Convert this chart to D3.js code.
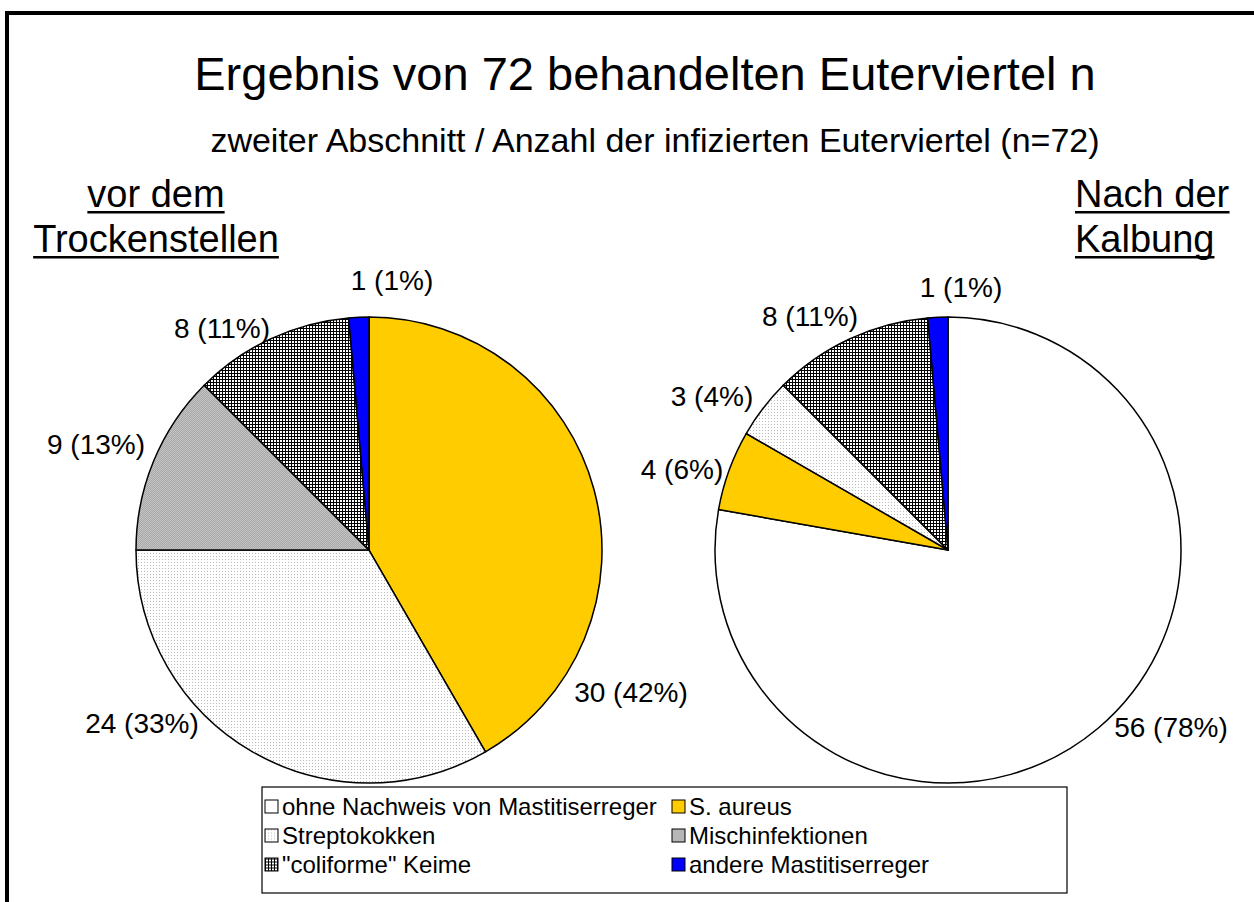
<!DOCTYPE html>
<html>
<head>
<meta charset="utf-8">
<script src="https://cdn.jsdelivr.net/npm/d3@7"></script>
<style>
  body { margin: 0; background: #fff; }
  text { font-family: "Liberation Sans", Arial, sans-serif; fill: #000; }
</style>
</head>
<body>
<div id="chart"></div>
<script>
// data
const categories = [
  "ohne Nachweis von Mastitiserreger",
  "S. aureus",
  "Streptokokken",
  "Mischinfektionen",
  "\"coliforme\" Keime",
  "andere Mastitiserreger"
];
const vorDemTrockenstellen = [0, 30, 24, 9, 8, 1];
const nachDerKalbung = [56, 4, 3, 0, 8, 1];
const total = 72;

const width = 1254;
const height = 902;

const svg = d3.select("#chart").append("svg")
  .attr("width", width)
  .attr("height", height);

//patterns for the hatched slices
const defs = svg.append("defs");
const pStrep = defs.append("pattern").attr("id", "strep")
  .attr("patternUnits", "userSpaceOnUse").attr("width", 3).attr("height", 3);
pStrep.append("rect").attr("width", 3).attr("height", 3).attr("fill", "#fff");
pStrep.append("rect").attr("width", 1).attr("height", 1).attr("fill", "#bbb");

const pMisch = defs.append("pattern").attr("id", "misch")
  .attr("patternUnits", "userSpaceOnUse").attr("width", 2).attr("height", 2);
pMisch.append("rect").attr("width", 2).attr("height", 2).attr("fill", "#c4c4c4");
pMisch.append("rect").attr("width", 1).attr("height", 1).attr("fill", "#a8a8a8");
pMisch.append("rect").attr("x", 1).attr("y", 1).attr("width", 1).attr("height", 1).attr("fill", "#a8a8a8");

const pColi = defs.append("pattern").attr("id", "coli")
  .attr("patternUnits", "userSpaceOnUse").attr("width", 3).attr("height", 3);
pColi.append("rect").attr("width", 3).attr("height", 3).attr("fill", "#000");
pColi.append("rect").attr("x", 1).attr("y", 1).attr("width", 2).attr("height", 2).attr("fill", "#fff");

const fills = ["#ffffff", "#ffcc00", "url(#strep)", "url(#misch)", "url(#coli)", "#0000ff"];
const color = d3.scaleOrdinal().domain(categories).range(fills);

// outer frame (only top and left visible)
svg.append("rect")
  .attr("x", 7).attr("y", 13)
  .attr("width", 1400).attr("height", 1000)
  .attr("fill", "none").attr("stroke", "#000").attr("stroke-width", 4);

// titles
svg.append("text")
  .attr("x", 645).attr("y", 90)
  .attr("text-anchor", "middle")
  .style("font-size", "47px")
  .text("Ergebnis von " + total + " behandelten Euterviertel n");

svg.append("text")
  .attr("x", 655).attr("y", 152)
  .attr("text-anchor", "middle")
  .style("font-size", "34px")
  .text("zweiter Abschnitt / Anzahl der infizierten Euterviertel (n=" + total + ")");

// pies
const radius = 233;
const pie = d3.pie().sort(null).value((d) => d.value);
const arc = d3.arc().innerRadius(0).outerRadius(radius);

const pies = [
  {
    values: vorDemTrockenstellen, cx: 369, cy: 550,
    header: ["vor dem", "Trockenstellen"], hx: 156, anchor: "middle",
    // label centres relative to pie centre, in slice order (zero slices skipped)
    labelPos: [[262, 142], [-227, 173], [-273, -106], [-147, -222], [23, -270]]
  },
  {
    values: nachDerKalbung, cx: 948, cy: 550,
    header: ["Nach der", "Kalbung"], hx: 1075, anchor: "start",
    labelPos: [[223, 177], [-266, -81], [-236, -154], [-138, -234], [13, -263]]
  }
];

pies.forEach((p) => {
  const data = categories.map((c, i) => ({ key: c, value: p.values[i] }));
  const arcs = pie(data).filter((d) => d.value > 0);

  const g = svg.append("g")
    .attr("transform", "translate(" + p.cx + "," + p.cy + ")");

  g.selectAll("path")
    .data(arcs)
    .enter()
    .append("path")
    .attr("d", arc)
    .attr("fill", (d) => color(d.data.key))
    .attr("stroke", "#000")
    .attr("stroke-width", 1.5)
    .attr("stroke-linejoin", "round");

  g.selectAll("text.lbl")
    .data(arcs)
    .enter()
    .append("text")
    .attr("class", "lbl")
    .attr("x", (d, i) => p.labelPos[i][0])
    .attr("y", (d, i) => p.labelPos[i][1])
    .attr("dy", "0.35em")
    .attr("text-anchor", "middle")
    .style("font-size", "28px")
    .text((d) => d.value + " (" + Math.round(d.value / total * 100) + "%)");

  // header with underline
  p.header.forEach((line, i) => {
    const t = svg.append("text")
      .attr("x", p.hx).attr("y", 207 + i * 45)
      .attr("text-anchor", p.anchor)
      .style("font-size", "38px")
      .text(line);
    const bb = t.node().getBBox();
    svg.append("rect")
      .attr("x", bb.x).attr("y", 207 + i * 45 + 4)
      .attr("width", bb.width).attr("height", 2.5)
      .attr("fill", "#000");
  });
});

// legend
const legend = svg.append("g");
legend.append("rect")
  .attr("x", 262).attr("y", 787)
  .attr("width", 805).attr("height", 106)
  .attr("fill", "#fff").attr("stroke", "#000").attr("stroke-width", 1.2);

const legendX = d3.scaleOrdinal().domain([0, 1]).range([265, 672]);
const legendY = d3.scalePoint().domain([0, 1, 2]).range([806.5, 864.5]);

const items = legend.selectAll("g.item")
  .data(categories)
  .enter()
  .append("g")
  .attr("class", "item")
  .attr("transform", (d, i) => "translate(" + legendX(i % 2) + "," + legendY(Math.floor(i / 2)) + ")");

items.append("rect")
  .attr("x", 0).attr("y", -6.5)
  .attr("width", 13).attr("height", 13)
  .attr("fill", (d) => color(d))
  .attr("stroke", "#000").attr("stroke-width", 1);

items.append("text")
  .attr("x", 17).attr("y", 0)
  .attr("dy", "0.35em")
  .style("font-size", "24px")
  .text((d) => d);
</script>
</body>
</html>
